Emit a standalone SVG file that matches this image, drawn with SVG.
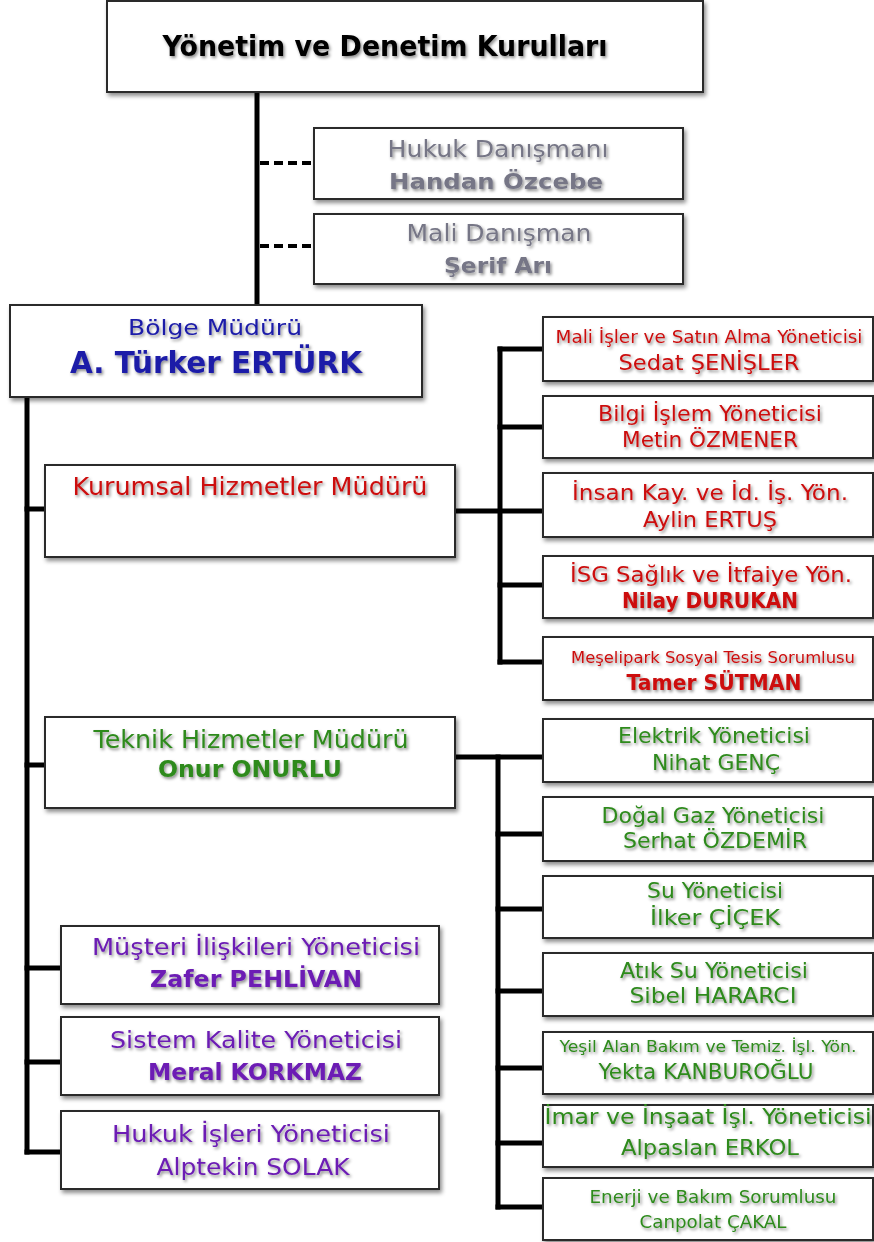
<svg xmlns="http://www.w3.org/2000/svg" width="874" height="1242" viewBox="0 0 874 1242">
<defs>
<filter id="bs" x="-5%" y="-10%" width="115%" height="130%">
<feDropShadow dx="2" dy="3" stdDeviation="2" flood-color="#000" flood-opacity="0.45"/>
</filter>
<filter id="ts" x="-5%" y="-30%" width="115%" height="170%">
<feDropShadow dx="1.5" dy="2" stdDeviation="1.5" flood-color="#000" flood-opacity="0.45"/>
</filter>
</defs>
<style>
.box{fill:#fff;stroke:#2a2a2a;stroke-width:2;filter:url(#bs)}
.ln{stroke:#000;stroke-width:5;fill:none;stroke-linecap:square}
.dash{stroke:#000;stroke-width:4;stroke-dasharray:9 5;fill:none}
text{font-family:"DejaVu Sans",Verdana,sans-serif;text-anchor:middle;filter:url(#ts)}
.b{font-weight:bold}
.k{fill:#000}
.g{fill:#767686}
.bl{fill:#1c1ca8}
.r{fill:#cc1010}
.gr{fill:#2e8a1c}
.p{fill:#6c1eb4}
</style>
<rect width="874" height="1242" fill="#fff"/>
<g id="connectors">
<line class="ln" x1="257" y1="92" x2="257" y2="305"/>
<line class="dash" x1="260" y1="163" x2="314" y2="163"/>
<line class="dash" x1="260" y1="246" x2="314" y2="246"/>
<line class="ln" x1="27" y1="397" x2="27" y2="1152"/>
<line class="ln" x1="27" y1="509" x2="45" y2="509"/>
<line class="ln" x1="27" y1="765" x2="45" y2="765"/>
<line class="ln" x1="27" y1="968" x2="61" y2="968"/>
<line class="ln" x1="27" y1="1062" x2="61" y2="1062"/>
<line class="ln" x1="27" y1="1152" x2="61" y2="1152"/>
<line class="ln" x1="455" y1="511" x2="543" y2="511"/>
<line class="ln" x1="500" y1="349" x2="500" y2="662"/>
<line class="ln" x1="500" y1="349" x2="543" y2="349"/>
<line class="ln" x1="500" y1="427" x2="543" y2="427"/>
<line class="ln" x1="500" y1="585" x2="543" y2="585"/>
<line class="ln" x1="500" y1="662" x2="543" y2="662"/>
<line class="ln" x1="455" y1="757" x2="543" y2="757"/>
<line class="ln" x1="498" y1="757" x2="498" y2="1207"/>
<line class="ln" x1="498" y1="834" x2="543" y2="834"/>
<line class="ln" x1="498" y1="909" x2="543" y2="909"/>
<line class="ln" x1="498" y1="991" x2="543" y2="991"/>
<line class="ln" x1="498" y1="1068" x2="543" y2="1068"/>
<line class="ln" x1="498" y1="1143" x2="543" y2="1143"/>
<line class="ln" x1="498" y1="1207" x2="543" y2="1207"/>
</g>
<g id="top"><rect class="box" x="107" y="1" width="596" height="91"/><text class="k b" x="385" y="56" font-size="29" textLength="445" lengthAdjust="spacingAndGlyphs">Yönetim ve Denetim Kurulları</text></g>
<g id="hukukdan"><rect class="box" x="314" y="128" width="369" height="71"/><text class="g" x="498" y="157" font-size="23" textLength="221" lengthAdjust="spacingAndGlyphs">Hukuk Danışmanı</text><text class="g b" x="496" y="189" font-size="22" textLength="214" lengthAdjust="spacingAndGlyphs">Handan Özcebe</text></g>
<g id="malidan"><rect class="box" x="314" y="214" width="369" height="70"/><text class="g" x="499" y="241" font-size="23" textLength="185" lengthAdjust="spacingAndGlyphs">Mali Danışman</text><text class="g b" x="498" y="273" font-size="22" textLength="108" lengthAdjust="spacingAndGlyphs">Şerif Arı</text></g>
<g id="bolge"><rect class="box" x="10" y="305" width="412" height="92"/><text class="bl" x="215" y="335" font-size="22" textLength="174" lengthAdjust="spacingAndGlyphs">Bölge Müdürü</text><text class="bl b" x="216" y="373" font-size="31" textLength="292" lengthAdjust="spacingAndGlyphs">A. Türker ERTÜRK</text></g>
<g id="kurumsal"><rect class="box" x="45" y="465" width="410" height="92"/><text class="r" x="250" y="495" font-size="25" textLength="355" lengthAdjust="spacingAndGlyphs">Kurumsal Hizmetler Müdürü</text></g>
<g id="teknik"><rect class="box" x="45" y="717" width="410" height="91"/><text class="gr" x="251" y="748" font-size="24" textLength="315" lengthAdjust="spacingAndGlyphs">Teknik Hizmetler Müdürü</text><text class="gr b" x="250" y="777" font-size="23" textLength="184" lengthAdjust="spacingAndGlyphs">Onur ONURLU</text></g>
<g id="mali"><rect class="box" x="543" y="317" width="330" height="64"/><text class="r" x="709" y="343" font-size="17" textLength="307" lengthAdjust="spacingAndGlyphs">Mali İşler ve Satın Alma Yöneticisi</text><text class="r" x="709" y="370" font-size="22" textLength="181" lengthAdjust="spacingAndGlyphs">Sedat ŞENİŞLER</text></g>
<g id="bilgi"><rect class="box" x="543" y="396" width="330" height="62"/><text class="r" x="710" y="421" font-size="22" textLength="224" lengthAdjust="spacingAndGlyphs">Bilgi İşlem Yöneticisi</text><text class="r" x="710" y="447" font-size="22" textLength="176" lengthAdjust="spacingAndGlyphs">Metin ÖZMENER</text></g>
<g id="insan"><rect class="box" x="543" y="473" width="330" height="64"/><text class="r" x="710" y="500" font-size="22" textLength="276" lengthAdjust="spacingAndGlyphs">İnsan Kay. ve İd. İş. Yön.</text><text class="r" x="710" y="527" font-size="22" textLength="134" lengthAdjust="spacingAndGlyphs">Aylin ERTUŞ</text></g>
<g id="isg"><rect class="box" x="543" y="556" width="330" height="62"/><text class="r" x="711" y="582" font-size="22" textLength="282" lengthAdjust="spacingAndGlyphs">İSG Sağlık ve İtfaiye Yön.</text><text class="r b" x="710" y="608" font-size="21" textLength="176" lengthAdjust="spacingAndGlyphs">Nilay DURUKAN</text></g>
<g id="meseli"><rect class="box" x="543" y="637" width="330" height="63"/><text class="r" x="713" y="663" font-size="16" textLength="284" lengthAdjust="spacingAndGlyphs">Meşelipark Sosyal Tesis Sorumlusu</text><text class="r b" x="714" y="690" font-size="22" textLength="175" lengthAdjust="spacingAndGlyphs">Tamer SÜTMAN</text></g>
<g id="elektrik"><rect class="box" x="543" y="719" width="330" height="63"/><text class="gr" x="714" y="743" font-size="21" textLength="192" lengthAdjust="spacingAndGlyphs">Elektrik Yöneticisi</text><text class="gr" x="716" y="770" font-size="21" textLength="128" lengthAdjust="spacingAndGlyphs">Nihat GENÇ</text></g>
<g id="dogalgaz"><rect class="box" x="543" y="797" width="330" height="64"/><text class="gr" x="713" y="823" font-size="21" textLength="223" lengthAdjust="spacingAndGlyphs">Doğal Gaz Yöneticisi</text><text class="gr" x="715" y="848" font-size="21" textLength="184" lengthAdjust="spacingAndGlyphs">Serhat ÖZDEMİR</text></g>
<g id="su"><rect class="box" x="543" y="876" width="330" height="62"/><text class="gr" x="715" y="898" font-size="21" textLength="136" lengthAdjust="spacingAndGlyphs">Su Yöneticisi</text><text class="gr" x="715" y="925" font-size="21" textLength="130" lengthAdjust="spacingAndGlyphs">İlker ÇİÇEK</text></g>
<g id="atiksu"><rect class="box" x="543" y="953" width="330" height="63"/><text class="gr" x="714" y="978" font-size="21" textLength="188" lengthAdjust="spacingAndGlyphs">Atık Su Yöneticisi</text><text class="gr" x="713" y="1003" font-size="21" textLength="167" lengthAdjust="spacingAndGlyphs">Sibel HARARCI</text></g>
<g id="yesil"><rect class="box" x="543" y="1032" width="330" height="62"/><text class="gr" x="708" y="1052" font-size="16" textLength="297" lengthAdjust="spacingAndGlyphs">Yeşil Alan  Bakım ve Temiz. İşl. Yön.</text><text class="gr" x="706" y="1079" font-size="21" textLength="215" lengthAdjust="spacingAndGlyphs">Yekta KANBUROĞLU</text></g>
<g id="imar"><rect class="box" x="543" y="1105" width="330" height="62"/><text class="gr" x="708" y="1124" font-size="22" textLength="327" lengthAdjust="spacingAndGlyphs">İmar ve İnşaat İşl. Yöneticisi</text><text class="gr" x="710" y="1155" font-size="22" textLength="178" lengthAdjust="spacingAndGlyphs">Alpaslan ERKOL</text></g>
<g id="enerji"><rect class="box" x="543" y="1178" width="330" height="62"/><text class="gr" x="713" y="1203" font-size="18" textLength="247" lengthAdjust="spacingAndGlyphs">Enerji ve Bakım Sorumlusu</text><text class="gr" x="713" y="1228" font-size="18" textLength="147" lengthAdjust="spacingAndGlyphs">Canpolat ÇAKAL</text></g>
<g id="musteri"><rect class="box" x="61" y="926" width="378" height="78"/><text class="p" x="256" y="955" font-size="23" textLength="328" lengthAdjust="spacingAndGlyphs">Müşteri İlişkileri Yöneticisi</text><text class="p b" x="256" y="987" font-size="23" textLength="212" lengthAdjust="spacingAndGlyphs">Zafer PEHLİVAN</text></g>
<g id="sistem"><rect class="box" x="61" y="1017" width="378" height="78"/><text class="p" x="256" y="1048" font-size="23" textLength="292" lengthAdjust="spacingAndGlyphs">Sistem Kalite Yöneticisi</text><text class="p b" x="255" y="1080" font-size="23" textLength="214" lengthAdjust="spacingAndGlyphs">Meral KORKMAZ</text></g>
<g id="hukukisleri"><rect class="box" x="61" y="1111" width="378" height="78"/><text class="p" x="251" y="1142" font-size="23" textLength="278" lengthAdjust="spacingAndGlyphs">Hukuk İşleri Yöneticisi</text><text class="p" x="253" y="1175" font-size="23" textLength="193" lengthAdjust="spacingAndGlyphs">Alptekin SOLAK</text></g>
</svg>
